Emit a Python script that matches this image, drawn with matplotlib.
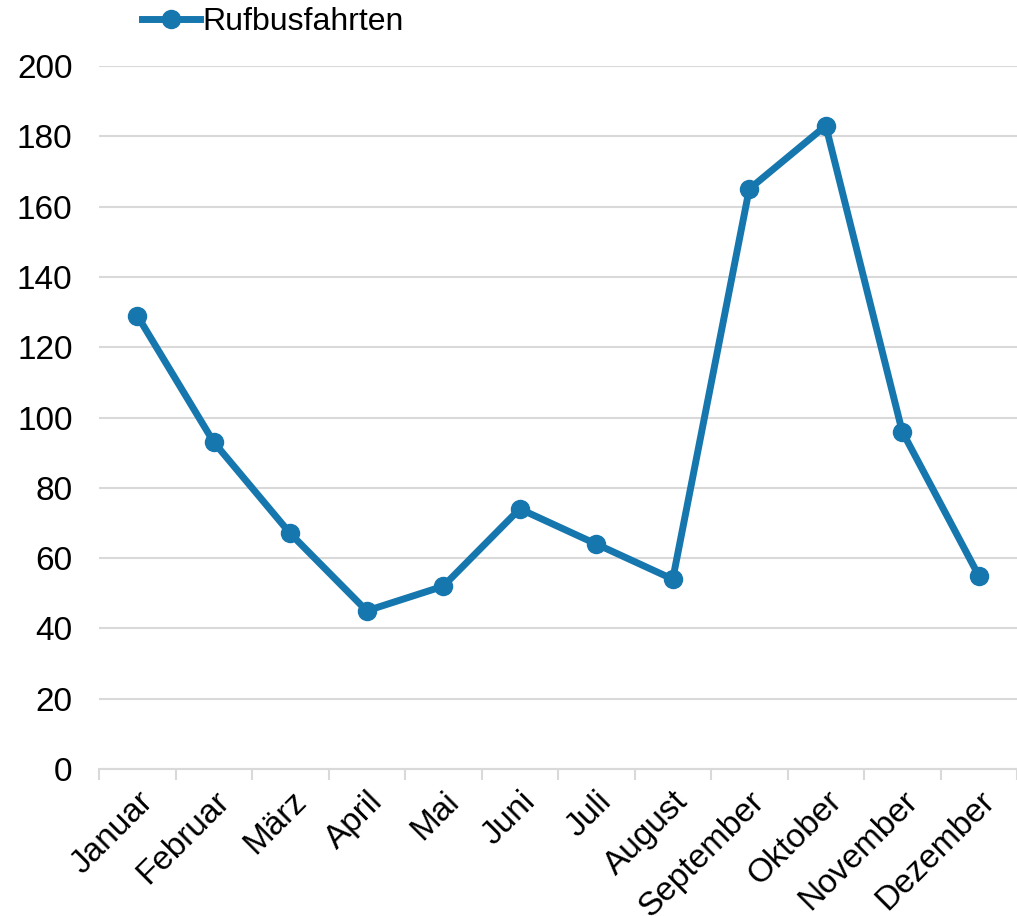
import matplotlib.pyplot as plt

plt.rcParams['font.family'] = ['Liberation Sans', 'DejaVu Sans']

months = ['Januar', 'Februar', 'März', 'April', 'Mai', 'Juni', 'Juli',
          'August', 'September', 'Oktober', 'November', 'Dezember']
rides = [129, 93, 67, 45, 52, 74, 64, 54, 165, 183, 96, 55]
y_ticks = list(range(0, 201, 20))

blue = '#1677ae'
grid_grey = '#d9d9d9'

fig = plt.figure(figsize=(10.17, 9.16), dpi=100)
ax = fig.add_axes([99 / 1017, 1 - 769 / 916, 1 - 99 / 1017, (769 - 66) / 916])

x = list(range(len(months)))
ax.plot(x, rides, color=blue, lw=5, marker='o', markersize=13,
        markerfacecolor=blue, markeredgecolor=blue, label='Rufbusfahrten',
        solid_joinstyle='round', zorder=3)

ax.set_xlim(-0.5, len(months) - 0.5)
ax.set_ylim(0, 200)
ax.set_yticks(y_ticks)
ax.tick_params(axis='y', length=0, labelsize=24, pad=19)
ax.yaxis.grid(True, color=grid_grey, lw=1.5)
ax.set_axisbelow(True)

# category boundaries as ticks on the x axis
ax.set_xticks([i - 0.5 for i in range(len(months) + 1)], minor=False)
ax.set_xticklabels([''] * (len(months) + 1))
ax.tick_params(axis='x', length=8, width=1.5, color=grid_grey, direction='out')
ax.set_xticks(x, minor=True)
ax.set_xticklabels(months, minor=True, rotation=45, ha='right',
                   rotation_mode='anchor', fontsize=24)
ax.tick_params(axis='x', which='minor', length=0, pad=12)

for side in ['top', 'right', 'left']:
    ax.spines[side].set_visible(False)
ax.spines['bottom'].set_color(grid_grey)
ax.spines['bottom'].set_linewidth(1.5)

fig.legend(loc='center left', bbox_to_anchor=(142 / 1017, 1 - 22 / 916),
           frameon=False, fontsize=23, handlelength=1.8, handletextpad=0.1,
           borderpad=0, borderaxespad=0)

fig.savefig('out.png', dpi=100)
